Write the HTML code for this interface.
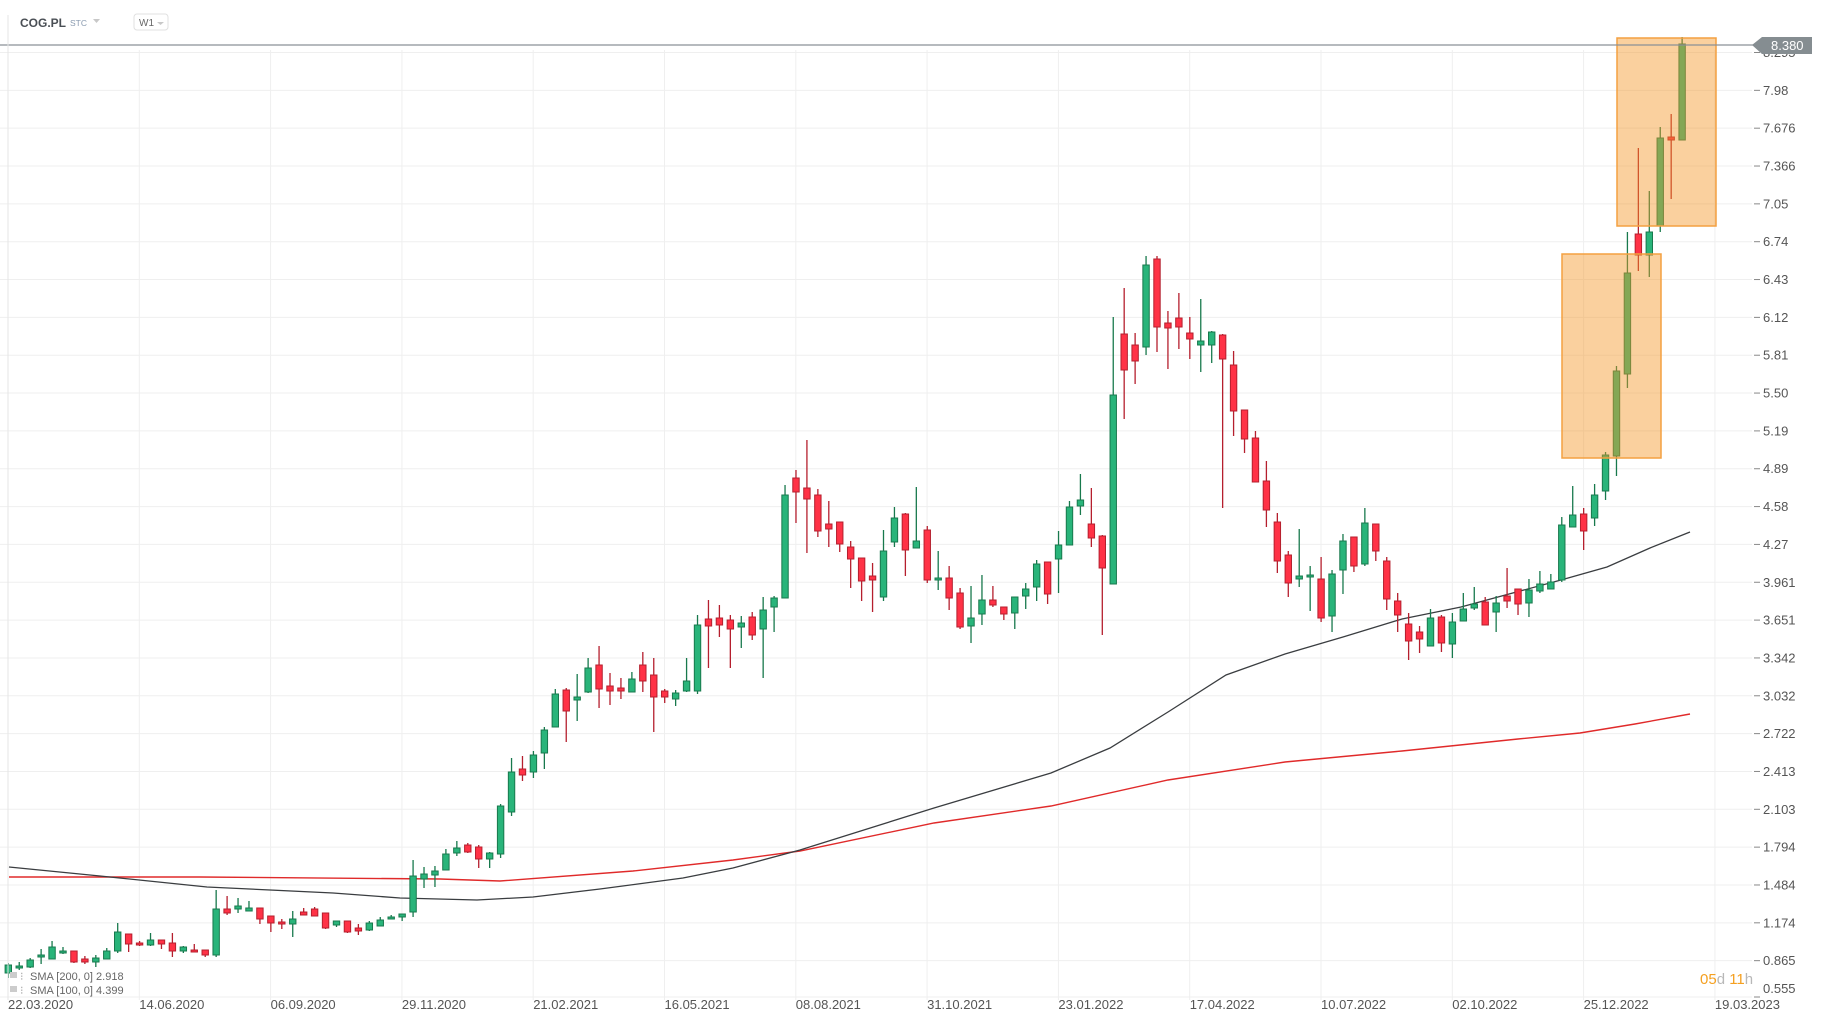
<!DOCTYPE html>
<html><head><meta charset="utf-8"><style>
html,body{margin:0;padding:0;background:#fff;width:1822px;height:1023px;overflow:hidden;font-family:"Liberation Sans",sans-serif}
svg{display:block}
</style></head><body>
<svg id="c" width="1822" height="1023" xmlns="http://www.w3.org/2000/svg" font-family="Liberation Sans, sans-serif">
<rect width="1822" height="1023" fill="#fff"/>
<g id="grid" stroke="#efefef" stroke-width="1"></g>
<g id="smas" fill="none"></g>
<g id="candles"></g>
<rect x="1562" y="254" width="99" height="204" fill="rgba(245,150,40,0.45)" stroke="#f4a040" stroke-width="1.5"/>
<rect x="1617" y="38" width="99" height="188" fill="rgba(245,150,40,0.45)" stroke="#f4a040" stroke-width="1.5"/>
<line x1="0" y1="45" x2="1755" y2="45" stroke="#8a9096" stroke-width="1.2"/>
<g id="labels" font-size="13" fill="#555"></g>
<polygon points="1752,45 1762,37 1812,37 1812,54 1762,54" fill="#858d91"/>
<text x="1771" y="50" font-size="13" fill="#fff">8.380</text>
<line x1="8" y1="15" x2="8" y2="1000" stroke="#e6e6e6"/>
<text x="20" y="27" font-size="12" font-weight="bold" fill="#4a4f55">COG.PL</text>
<text x="70" y="26" font-size="8.5" fill="#8a9bb0">STC</text>
<polygon points="93,19 100,19 96.5,23" fill="#c8c8c8"/>
<rect x="134" y="14" width="34" height="16" rx="3" fill="#fff" stroke="#e0e0e0"/>
<text x="139" y="26" font-size="10" fill="#666">W1</text>
<polygon points="157,22 164,22 160.5,25" fill="#c8c8c8"/>
<text x="1700" y="984" font-size="15" fill="#f5a020">05<tspan fill="#b8b8b8">d</tspan> 11<tspan fill="#b8b8b8">h</tspan></text>
<g font-size="11" fill="#666">
<rect x="10" y="972" width="7" height="6" fill="#ccc"/><text x="20" y="980" fill="#aaa">⁝</text>
<text x="30" y="980">SMA [200, 0] 2.918</text>
<rect x="10" y="986" width="7" height="6" fill="#ccc"/><text x="20" y="994" fill="#aaa">⁝</text>
<text x="30" y="994">SMA [100, 0] 4.399</text>
</g>
</svg>
<script>
(function(){
var NS="http://www.w3.org/2000/svg";
function el(t,a,p){var e=document.createElementNS(NS,t);for(var kk in a)e.setAttribute(kk,a[kk]);p.appendChild(e);return e;}
var grid=document.getElementById('grid'),labels=document.getElementById('labels');
var prices=["8.295","7.98","7.676","7.366","7.05","6.74","6.43","6.12","5.81","5.50","5.19","4.89","4.58","4.27","3.961","3.651","3.342","3.032","2.722","2.413","2.103","1.794","1.484","1.174","0.865","0.555"];
for(var k=0;k<prices.length;k++){var yy=52.5+37.84*k; if(k==25)yy=997;
 el('line',{x1:0,y1:yy,x2:1752,y2:yy},grid);
 el('line',{x1:1754,y1:yy,x2:1760,y2:yy,stroke:'#888'},grid);
 var t=el('text',{x:1763,y:(k==25?yy-4:yy+4.5)},labels);t.textContent=prices[k];}
var dates=["22.03.2020","14.06.2020","06.09.2020","29.11.2020","21.02.2021","16.05.2021","08.08.2021","31.10.2021","23.01.2022","17.04.2022","10.07.2022","02.10.2022","25.12.2022","19.03.2023"];
for(var k=0;k<dates.length;k++){var xx=8+131.3*k;
 el('line',{x1:xx,y1:50,x2:xx,y2:1000},grid);
 var t=el('text',{x:xx,y:1009},labels);t.textContent=dates[k];}
var sm=document.getElementById('smas');
el('polyline',{points:"9,877 200,877 440,879 500,881 633,871 733,860 800,851 934,823 1051,806 1168,780 1285,762 1402,751 1518,739 1580,733 1635,724 1690,714",stroke:"#e02a2a","stroke-width":1.4},sm);
el('polyline',{points:"9,867 100,876 207,887 333,893 400,898 477,900 533,897 600,889 683,878 733,868 800,850 934,808 1051,773 1110,748 1168,712 1226,675 1285,654 1343,637 1402,619 1461,607 1561,580 1607,567 1650,548 1690,532",stroke:"#3a3d40","stroke-width":1.3},sm);
var D=[[973,965,963,978],[968,966,962,970],[967,960,958,968],[957,955,949,964],[959,947,941,959],[953,951,947,954],[951,962,951,963],[959,962,956,964],[962,958,955,967],[959,951,948,959],
[951,932,923,953],[934,944,934,952],[943,945,941,946],[945,940,933,946],[940,944,940,949],[943,951,933,957],[951,947,946,953],[950,952,944,952],[950,955,950,957],[955,909,890,957],
[909,913,896,915],[909,906,898,913],[911,908,901,911],[908,919,908,924],[916,923,916,932],[922,924,919,929],[924,919,911,937],[912,915,908,915],[909,916,907,916],[913,928,913,929],
[925,921,921,927],[921,932,921,933],[928,931,924,935],[930,923,921,931],[926,920,917,926],[919,917,915,919],[917,914,914,921],[912,876,860,917],[879,874,867,888],[875,871,866,887],
[870,854,849,870],[853,848,841,856],[845,852,843,853],[847,859,845,868],[859,853,852,868],[854,806,804,858],[812,772,758,816],[769,775,756,781],[772,755,751,778],[753,730,727,769],
[727,694,689,727],[690,711,688,742],[700,697,674,721],[692,668,658,693],[665,689,646,708],[686,691,673,705],[688,691,678,699],[692,679,672,692],[665,681,652,692],[675,697,658,732],
[691,697,689,703],[699,693,690,706],[691,681,658,692],[691,625,615,694],[619,626,600,668],[618,625,605,637],[620,629,615,668],[627,623,616,648],[617,635,612,640],[629,610,597,678],
[607,598,596,632],[598,495,485,598],[478,492,470,523],[488,499,440,553],[495,531,489,537],[524,529,501,547],[522,544,522,552],[547,559,541,588],[558,581,558,601],[576,580,563,612],
[597,551,530,601],[542,518,507,547],[514,550,513,576],[548,541,487,548],[530,580,526,583],[580,578,551,590],[578,598,566,610],[593,627,588,629],[626,618,586,643],[614,600,575,625],
[600,605,586,607],[607,614,607,620],[613,597,597,629],[596,589,583,609],[587,564,560,601],[562,594,562,604],[559,545,531,593],[545,507,501,545],[506,500,474,515],[524,538,488,547],
[536,568,535,635],[584,395,317,584],[334,370,288,419],[345,361,333,384],[347,265,256,355],[259,327,256,352],[323,328,311,369],[318,327,293,349],[333,339,317,359],[345,341,299,372],
[345,332,331,363],[335,359,334,508],[365,411,351,436],[410,439,410,453],[438,482,431,482],[481,510,461,527],[522,561,513,573],[555,583,551,597],[579,576,529,587],[577,575,566,611],
[579,618,557,622],[616,574,570,632],[570,541,534,594],[537,566,537,572],[564,523,508,566],[524,551,524,561],[561,599,557,610],[601,615,593,632],[624,641,613,660],[632,639,626,653],
[646,618,609,646],[617,643,615,652],[644,622,613,658],[621,609,593,621],[608,604,587,610],[602,625,597,625],[612,603,596,632],[596,601,568,608],[589,604,589,615],[603,590,579,617],
[591,584,571,593],[589,582,574,589],[580,525,517,582],[527,515,486,527],[514,531,508,550],[518,495,484,526],[491,455,452,500],[456,371,366,476],[374,273,232,388],[234,255,148,271],
[255,232,191,277],[226,138,127,232],[137,140,114,199],[140,44,37,140]];
var cg=document.getElementById('candles');
for(var i=0;i<D.length;i++){var d=D[i],cx=8.3+10.94*i,up=d[1]<d[0];
 var fill=up?'#29b47a':'#ff3246',st=up?'#18794d':'#b51f2e';
 el('line',{x1:cx,y1:d[2],x2:cx,y2:d[3],stroke:st,'stroke-width':1.3},cg);
 var bt=Math.min(d[0],d[1]),bh=Math.max(Math.abs(d[0]-d[1]),2);
 el('rect',{x:cx-3.2,y:bt,width:6.4,height:bh,fill:fill,stroke:st,'stroke-width':1},cg);}
})();
</script>
</body></html>
